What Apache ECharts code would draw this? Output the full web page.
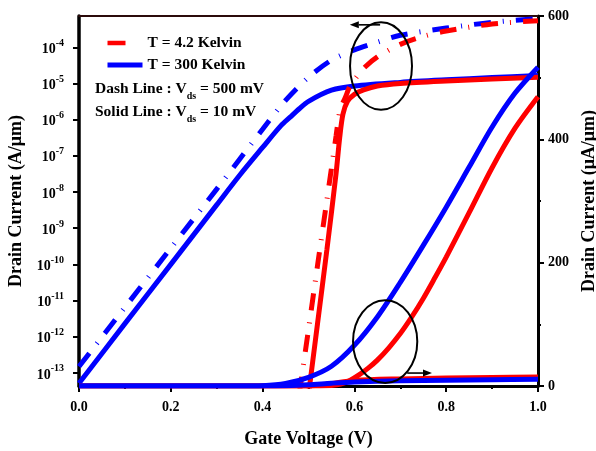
<!DOCTYPE html>
<html>
<head>
<meta charset="utf-8">
<script src="https://cdn.jsdelivr.net/npm/echarts@6/dist/echarts.min.js"></script>
<style>
  html, body { margin: 0; padding: 0; background: #fff; }
  #chart { width: 596px; height: 451px; }
</style>
</head>
<body>
<div id="chart"></div>
<script>
const FONT = '"Liberation Serif", "Times New Roman", serif';
const RED = '#ff0000';
const BLUE = '#0000ff';

// ---- Transfer characteristics, log scale (A/um) ----
// T = 4.2 K, Vds = 500 mV
const vg4K500 = [0.48, 0.50, 0.52, 0.54, 0.56, 0.565, 0.57, 0.58, 0.59, 0.60, 0.62, 0.65, 0.70, 0.75, 0.80, 0.90, 1.00];
const id4K500 = [2.7e-14, 1.6e-12, 1.0e-10, 5.9e-9, 3.5e-7, 1.0e-6, 2.1e-6, 4.0e-6, 8.3e-6, 1.26e-5, 2.6e-5, 5.4e-5, 1.2e-4, 2.0e-4, 2.8e-4, 4.4e-4, 5.4e-4];
// T = 4.2 K, Vds = 10 mV
const vg4K10 = [0.495, 0.52, 0.54, 0.56, 0.568, 0.575, 0.585, 0.60, 0.62, 0.65, 0.70, 0.80, 0.90, 1.00];
const id4K10 = [7.9e-15, 2.5e-12, 2.5e-10, 3.2e-8, 3.2e-7, 1.4e-6, 3.2e-6, 5.0e-6, 6.6e-6, 8.5e-6, 1.0e-5, 1.17e-5, 1.32e-5, 1.48e-5];
// T = 300 K, Vds = 500 mV
const vg300K500 = [0.0, 0.1, 0.2, 0.3, 0.4, 0.45, 0.5, 0.55, 0.6, 0.65, 0.7, 0.8, 0.9, 1.0];
const id300K500 = [1.5e-13, 6.5e-12, 2.8e-10, 1.2e-8, 5.4e-7, 3.4e-6, 1.48e-5, 4.4e-5, 8.5e-5, 1.38e-4, 2.14e-4, 3.39e-4, 4.9e-4, 6.2e-4];
// T = 300 K, Vds = 10 mV
const vg300K10 = [0.0, 0.1, 0.2, 0.3, 0.35, 0.4, 0.44, 0.46, 0.48, 0.5, 0.55, 0.6, 0.7, 0.8, 0.9, 1.0];
const id300K10 = [5.2e-14, 2.3e-12, 1.0e-10, 4.4e-9, 2.9e-8, 1.7e-7, 6.8e-7, 1.17e-6, 2.0e-6, 3.2e-6, 6.5e-6, 8.5e-6, 1.07e-5, 1.26e-5, 1.45e-5, 1.66e-5];

// ---- Transfer characteristics, linear scale (uA/um) ----
const vgLin4K500 = [0.0, 0.5, 0.55, 0.57, 0.59, 0.61, 0.63, 0.65, 0.675, 0.70, 0.725, 0.75, 0.775, 0.80, 0.85, 0.90, 0.95, 1.00];
const idLin4K500 = [0, 0, 1, 3, 9, 18, 29, 42, 62, 85, 112, 142, 175, 209, 281, 354, 418, 469];
const vgLin300K500 = [0.0, 0.35, 0.40, 0.45, 0.50, 0.55, 0.60, 0.65, 0.70, 0.75, 0.80, 0.85, 0.90, 0.95, 1.00];
const idLin300K500 = [0, 0, 0.5, 4, 14, 32, 66, 112, 168, 228, 290, 355, 420, 475, 517];
const vgLin4K10 = [0.0, 0.5, 0.52, 0.55, 0.6, 0.7, 0.8, 0.9, 1.0];
const idLin4K10 = [0, 0, 1, 4, 9, 11.5, 12.8, 13.8, 14.6];
const vgLin300K10 = [0.0, 0.4, 0.45, 0.5, 0.55, 0.6, 0.7, 0.8, 0.9, 1.0];
const idLin300K10 = [0, 0, 0.5, 2, 4.5, 6.5, 8.5, 9.5, 10.3, 11];

// Axis ticks
const xTicks = [0.0, 0.2, 0.4, 0.6, 0.8, 1.0];
const logDecades = [-13, -12, -11, -10, -9, -8, -7, -6, -5, -4];

// Annotation rings (axis units) and their pointer arrows
const ringLog = [0.658, -4.52, 0.0675, 1.21];
const arrowLog = [0.656, -3.38, 0.590, -3.38];
const ringLin = [0.667, 72, 0.070, 67];
const arrowLin = [0.715, 21, 0.769, 21];

const logPairs = (v, id) => v.map((x, i) => [x, Math.log10(id[i])]);
const linPairs = (v, id) => v.map((x, i) => [x, id[i]]);

const DASH = [17, 12, 1, 12];
const LW = 5;

function lineSeries(name, data, color, dashed, yAxisIndex) {
  return {
    type: 'line', name, data, yAxisIndex,
    symbol: 'none', smooth: 0.3,
    lineStyle: { color, width: LW, type: dashed ? DASH : 'solid', cap: 'butt' },
    itemStyle: { color },
    emphasis: { disabled: true },
    animation: false
  };
}

const labelFont = { fontFamily: FONT, fontWeight: 'bold', color: '#000' };

function ringSeries(ring, yAxisIndex) {
  return {
    type: 'custom', yAxisIndex, data: [ring], silent: true, animation: false, z: 10,
    renderItem: (params, api) => {
      const c = api.coord([api.value(0), api.value(1)]);
      const e = api.coord([api.value(0) + api.value(2), api.value(1) + api.value(3)]);
      return {
        type: 'ellipse',
        shape: { cx: c[0], cy: c[1], rx: Math.abs(e[0] - c[0]), ry: Math.abs(c[1] - e[1]) },
        style: { fill: 'none', stroke: '#000', lineWidth: 2 }
      };
    }
  };
}

function arrowSeries(arrow, yAxisIndex) {
  return {
    type: 'custom', yAxisIndex, data: [arrow], silent: true, animation: false, z: 10,
    renderItem: (params, api) => {
      const p1 = api.coord([api.value(0), api.value(1)]);
      const p2 = api.coord([api.value(2), api.value(3)]);
      const dx = p2[0] - p1[0], dy = p2[1] - p1[1];
      const len = Math.sqrt(dx * dx + dy * dy);
      const ux = dx / len, uy = dy / len;
      const hl = 9, hw = 3.5;
      const bx = p2[0] - ux * hl, by = p2[1] - uy * hl;
      return {
        type: 'group',
        children: [
          { type: 'line', shape: { x1: p1[0], y1: p1[1], x2: bx, y2: by }, style: { stroke: '#000', lineWidth: 1.6 } },
          { type: 'polygon', shape: { points: [[p2[0], p2[1]], [bx - uy * hw, by + ux * hw], [bx + uy * hw, by - ux * hw]] }, style: { fill: '#000' } }
        ]
      };
    }
  };
}

const chart = echarts.init(document.getElementById('chart'), null, { renderer: 'canvas' });

const option = {
  animation: false,
  backgroundColor: '#fff',
  grid: { left: 79, right: 58, top: 16, bottom: 65, containLabel: false, outerBoundsMode: 'none' },
  legend: {
    orient: 'vertical', left: 105, top: 35, padding: 0,
    itemWidth: 35, itemHeight: 14, itemGap: 6,
    selectedMode: false,
    itemStyle: { opacity: 0 },
    data: [
      { name: 'T = 4.2 Kelvin', lineStyle: { color: RED, width: 4.5, type: [18, 40] } },
      { name: 'T = 300 Kelvin', lineStyle: { color: BLUE, width: 5, type: 'solid' } }
    ],
    textStyle: { fontFamily: FONT, fontWeight: 'bold', fontSize: 15.5, color: '#000' }
  },
  xAxis: [
    {
      type: 'value', position: 'bottom', min: 0, max: 1, interval: 0.2,
      name: 'Gate Voltage (V)', nameLocation: 'middle', nameGap: 44,
      nameTextStyle: { fontFamily: FONT, fontWeight: 'bold', fontSize: 18, color: '#000' },
      axisLine: { onZero: false, lineStyle: { color: '#000', width: 3 } },
      axisTick: { inside: false, length: 6, lineStyle: { color: '#000', width: 2 } },
      minorTick: { show: true, splitNumber: 2, length: 3, lineStyle: { color: '#000', width: 2 } },
      axisLabel: { ...labelFont, fontSize: 14, margin: 14, formatter: v => xTicks.includes(+v.toFixed(1)) ? v.toFixed(1) : '' },
      splitLine: { show: false }
    },
    {
      type: 'value', position: 'top', min: 0, max: 1,
      axisLine: { onZero: false, lineStyle: { color: '#2b0a0a', width: 2 } },
      axisTick: { show: false }, axisLabel: { show: false }, splitLine: { show: false }
    }
  ],
  yAxis: [
    {
      type: 'value', position: 'left', min: -13.362, max: -3.136,
      name: 'Drain Current (A/μm)', nameLocation: 'middle', nameGap: 50, nameRotate: 90,
      nameTextStyle: { fontFamily: FONT, fontWeight: 'bold', fontSize: 18, color: '#000' },
      axisLine: { onZero: false, lineStyle: { color: '#000', width: 3.5 } },
      axisTick: { customValues: logDecades, length: 6, lineStyle: { color: '#000', width: 2 } },
      axisLabel: {
        customValues: logDecades, margin: 15,
        formatter: v => '{b|10}{s|' + Math.round(v) + '}',
        rich: {
          b: { ...labelFont, fontSize: 14, lineHeight: 18, verticalAlign: 'bottom' },
          s: { ...labelFont, fontSize: 10, lineHeight: 10, verticalAlign: 'top' }
        }
      },
      splitLine: { show: false }
    },
    {
      type: 'value', position: 'right', min: 0, max: 600, interval: 200,
      name: 'Drain Current (μA/μm)', nameLocation: 'middle', nameGap: 31, nameRotate: 90,
      nameTextStyle: { fontFamily: FONT, fontWeight: 'bold', fontSize: 18, color: '#000' },
      axisLine: { onZero: false, lineStyle: { color: '#000', width: 3 } },
      axisTick: { length: 6, lineStyle: { color: '#000', width: 2 } },
      minorTick: { show: true, splitNumber: 2, length: 3, lineStyle: { color: '#000', width: 2 } },
      axisLabel: { ...labelFont, fontSize: 14, margin: 10 },
      splitLine: { show: false }
    }
  ],
  graphic: [
    {
      type: 'text', x: 95, y: 91, silent: true,
      style: {
        text: '{t|Dash Line : V}{d|ds}{t| = 500 mV}', verticalAlign: 'middle',
        rich: {
          t: { ...labelFont, fontSize: 15.5, lineHeight: 20, verticalAlign: 'top' },
          d: { ...labelFont, fontSize: 10, lineHeight: 10, verticalAlign: 'bottom' }
        }
      }
    },
    {
      type: 'text', x: 95, y: 114, silent: true,
      style: {
        text: '{t|Solid Line : V}{d|ds}{t| = 10 mV}', verticalAlign: 'middle',
        rich: {
          t: { ...labelFont, fontSize: 15.5, lineHeight: 20, verticalAlign: 'top' },
          d: { ...labelFont, fontSize: 10, lineHeight: 10, verticalAlign: 'bottom' }
        }
      }
    }
  ],
  series: [
    lineSeries('T = 300 Kelvin', logPairs(vg300K10, id300K10), BLUE, false, 0),
    lineSeries('300K 500mV log', logPairs(vg300K500, id300K500), BLUE, true, 0),
    lineSeries('T = 4.2 Kelvin', logPairs(vg4K500, id4K500), RED, true, 0),
    lineSeries('4.2K 10mV log', logPairs(vg4K10, id4K10), RED, false, 0),
    lineSeries('4.2K 500mV lin', linPairs(vgLin4K500, idLin4K500), RED, false, 1),
    lineSeries('4.2K 10mV lin', linPairs(vgLin4K10, idLin4K10), RED, false, 1),
    lineSeries('300K 500mV lin', linPairs(vgLin300K500, idLin300K500), BLUE, false, 1),
    lineSeries('300K 10mV lin', linPairs(vgLin300K10, idLin300K10), BLUE, false, 1),
    ringSeries(ringLog, 0),
    arrowSeries(arrowLog, 0),
    ringSeries(ringLin, 1),
    arrowSeries(arrowLin, 1)
  ]
};

chart.setOption(option);
</script>
</body>
</html>
